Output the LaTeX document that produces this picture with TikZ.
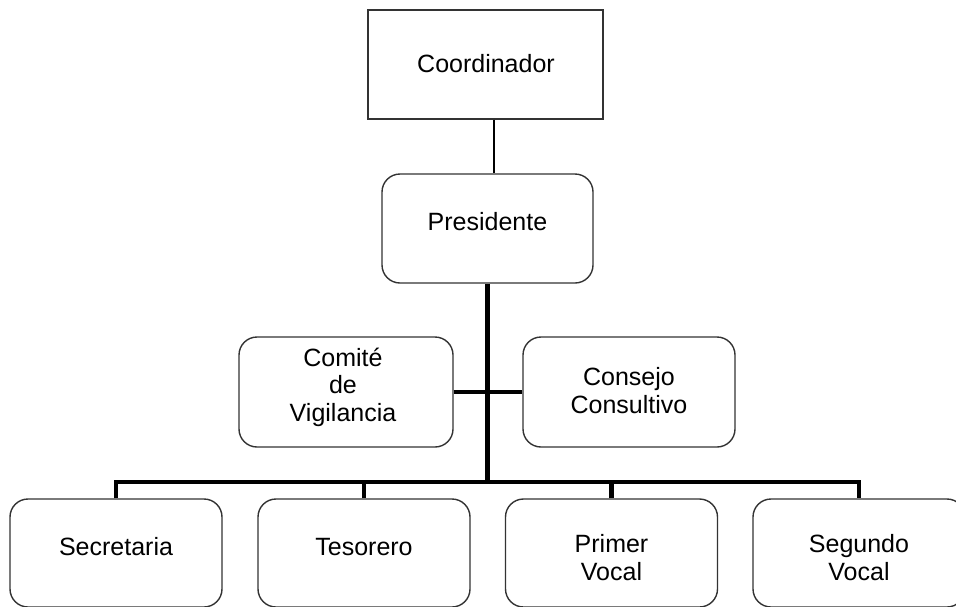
\documentclass[tikz,border=0pt]{standalone}
\usepackage{fontspec}
\setmainfont{Liberation Sans}
\begin{document}
\begin{tikzpicture}[x=1pt,y=-1pt,
  rbox/.style={draw=black!80, line width=1.4pt, rounded corners=18pt, minimum width=212pt, minimum height=108pt, inner sep=0pt},
  sqbox/.style={draw=black!80, line width=1.4pt, minimum width=235pt, minimum height=109pt, inner sep=0pt},
  lbl/.style={font=\fontsize{25}{27.5}\selectfont, align=center, inner sep=0pt, anchor=base},
  trunk/.style={line width=4.2pt, line join=miter},
  thinline/.style={line width=1.5pt}]
\useasboundingbox (0,0) rectangle (956,606);
\clip (0,0) rectangle (956,606);
% boxes
\node[sqbox] (coord) at (485.5,64.5) {};
\node[rbox, minimum width=211pt, minimum height=109pt] (pres) at (487.5,228.5) {};
\node[rbox, minimum width=214pt, minimum height=110pt] (comite) at (346,392) {};
\node[rbox, minimum height=110pt] (consejo) at (629,392) {};
\node[rbox] (secr) at (116,553) {};
\node[rbox] (tes) at (364,553) {};
\node[rbox] (prim) at (611.5,553) {};
\node[rbox] (seg) at (859,553) {};
% labels (base anchor = baseline of the last line)
\node[lbl] (tcoord) at (486,72) {Coordinador};
\node[lbl] (tpres) at (487.5,230) {Presidente};
\node[lbl] (tcomite) at (343,421) {Comité\\de\\Vigilancia};
\node[lbl] (tconsejo) at (629,413) {Consejo\\Consultivo};
\node[lbl] (tsecr) at (116,555) {Secretaria};
\node[lbl] (ttes) at (364,555) {Tesorero};
\node[lbl] (tprim) at (611.5,580) {Primer\\Vocal};
\node[lbl] (tseg) at (859,580) {Segundo\\Vocal};
% connectors
\coordinate (cx) at (494,0);
\coordinate (bus) at (487.5,482);
\draw[thinline] (coord.south -| cx) -- (pres.north -| cx);
\draw[trunk] (pres.south) -- (bus);
\draw[trunk] (comite.east) -- (consejo.west);
\draw[trunk] (secr.north) -- (secr.north |- bus) -- (seg.north |- bus) -- (seg.north);
\draw[trunk] (tes.north) -- (tes.north |- bus);
\draw[trunk] (prim.north) -- (prim.north |- bus);
\end{tikzpicture}
\end{document}
